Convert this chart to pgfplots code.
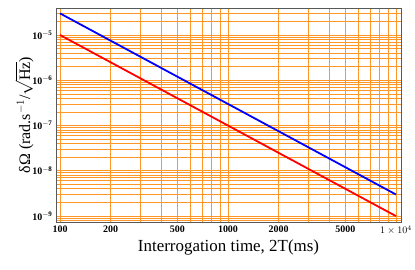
\documentclass[border=0pt]{standalone}
\usepackage{pgfplots}
\pgfplotsset{compat=1.18}
\usepackage{fontspec}
\setmainfont{Liberation Serif}
\definecolor{gridor}{RGB}{255,150,40}
\begin{document}
\begin{tikzpicture}
\begin{axis}[
  name=ax,
  scale only axis,
  width=345bp, height=214bp,
  xmode=log, ymode=log,
  xmin=94.6, xmax=10720,
  ymin=7.4e-10, ymax=3.95e-5,
  xtick={100,200,300,400,500,600,700,800,900,1000,2000,3000,4000,5000,6000,7000,8000,9000,10000},
  xticklabels={100,200,,,500,,,,,1000,2000,,,5000,,,,,$1\times10^{4}$},
  ytick={8e-10,9e-10,1e-9,2e-9,3e-9,4e-9,5e-9,6e-9,7e-9,8e-9,9e-9,
    1e-8,2e-8,3e-8,4e-8,5e-8,6e-8,7e-8,8e-8,9e-8,
    1e-7,2e-7,3e-7,4e-7,5e-7,6e-7,7e-7,8e-7,9e-7,
    1e-6,2e-6,3e-6,4e-6,5e-6,6e-6,7e-6,8e-6,9e-6,
    1e-5,2e-5,3e-5},
  yticklabels={,,$\mathbf{10^{-9}}$,,,,,,,,,$\mathbf{10^{-8}}$,,,,,,,,,$\mathbf{10^{-7}}$,,,,,,,,,$\mathbf{10^{-6}}$,,,,,,,,,$\mathbf{10^{-5}}$,,},
  minor tick num=0,
  grid=major,
  major grid style={draw=gridor, line width=0.8pt},
  axis line style={gray!70!black, line width=0.6pt},
  major tick style={draw=gridor},
  tick align=inside,
  major tick length=0pt,
  ticklabel style={font=\fontsize{10}{12}\selectfont\bfseries},
  xlabel={Interrogation time, 2T(ms)},
  ylabel={δΩ (rad.s$^{-1}$/$\sqrt{\mathrm{Hz}}$)},
  xlabel style={font=\fontsize{17}{19}\selectfont, yshift=2bp},
  ylabel style={font=\fontsize{16}{18}\selectfont, yshift=-8bp},
  clip=true,
]
\addplot[blue, line width=1.8pt] coordinates {(100,3e-5) (10000,3e-9)};
\addplot[red, line width=1.8pt] coordinates {(100,1e-5) (10000,1e-9)};
\end{axis}
\pgfresetboundingbox
\path ([shift={(-56bp,-48bp)}]ax.south west) rectangle ([shift={(14bp,8bp)}]ax.north east);
\end{tikzpicture}
\end{document}
